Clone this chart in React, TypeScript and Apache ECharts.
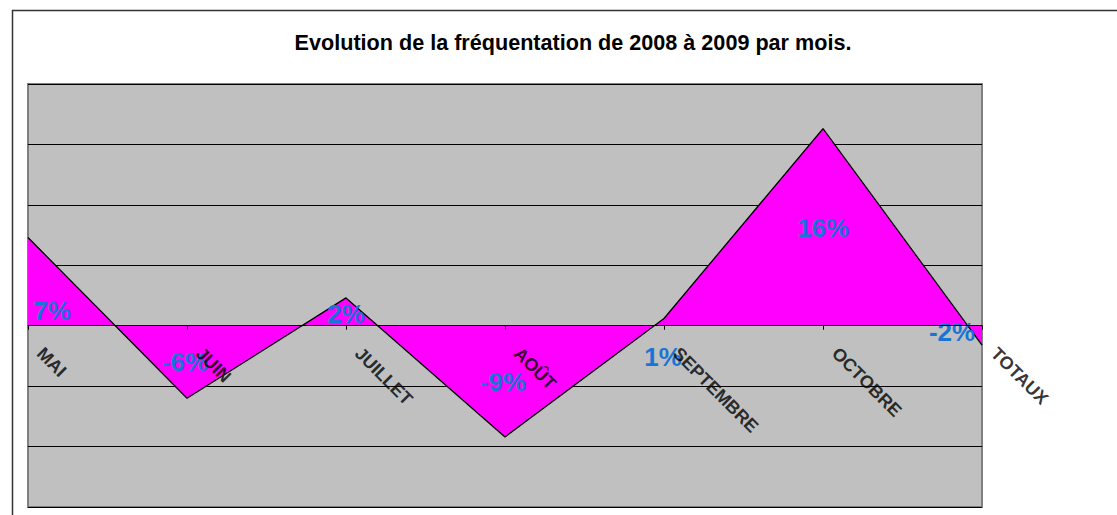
import React, { useEffect, useRef } from "react";
import * as echarts from "echarts";

const titleText = "Evolution de la fréquentation de 2008 à 2009 par mois.";
const categories = ["MAI", "JUIN", "JUILLET", "AOÛT", "SEPTEMBRE", "OCTOBRE", "TOTAUX"];
const values = [7.3, -6.0, 2.3, -9.2, 0.6, 16.3, -1.6];
// label center offsets relative to each point (style only)
const labelOffsets: [number, number][] = [
  [24, 74],
  [-2, -36],
  [0, 16],
  [-2, -55],
  [-1, 39],
  [0, 99],
  [-30, -13],
];

const FONT = "'Liberation Sans', Arial, sans-serif";

export default function App() {
  const ref = useRef<HTMLDivElement>(null);
  useEffect(() => {
    if (!ref.current) return;
    const chart = echarts.init(ref.current, null, { renderer: "svg" });
    const data = values.map((v, i) => ({
      value: v,
      label: { offset: labelOffsets[i] },
    }));
    // category names carried on the zero line (axis crosses at 0)
    const axisNameData = categories.map((c) => ({ value: [c, 0], name: c }));
    chart.setOption({
      animation: false,
      backgroundColor: "#ffffff",
      title: {
        text: titleText,
        left: 568,
        top: 26,
        textAlign: "center",
        textStyle: { fontFamily: FONT, fontSize: 21.6, fontWeight: "bold", color: "#000" },
      },
      graphic: [
        {
          type: "rect",
          shape: { x: 12.5, y: 10.5, width: 1200, height: 600 },
          style: { fill: "none", stroke: "#333", lineWidth: 1.5 },
          silent: true,
          z: 100,
        },
      ],
      grid: {
        left: 28,
        top: 84,
        width: 954,
        height: 423,
        show: true,
        backgroundColor: "#C0C0C0",
        borderColor: "#808080",
        borderWidth: 2,
        containLabel: false,
        outerBoundsMode: "none",
      },
      xAxis: {
        type: "category",
        data: categories,
        boundaryGap: false,
        axisLine: { onZero: true, lineStyle: { color: "#000", width: 1 } },
        axisTick: { show: true, length: 4, lineStyle: { color: "#000" } },
        axisLabel: { show: false },
        splitLine: { show: false },
        z: 5,
      },
      yAxis: {
        type: "value",
        min: -15,
        max: 20,
        interval: 5,
        axisLine: { show: false },
        axisTick: { show: false },
        axisLabel: { show: false },
        splitLine: { show: true, lineStyle: { color: "#000", width: 1 } },
      },
      series: [
        {
          type: "line",
          data,
          symbol: "circle",
          symbolSize: 1,
          showSymbol: true,
          itemStyle: { color: "rgba(0,0,0,0)" },
          lineStyle: { color: "#000", width: 1.3 },
          areaStyle: { color: "#FF00FF", opacity: 1 },
          label: {
            show: true,
            position: "inside",
            formatter: (p: any) => Math.round(p.value) + "%",
            fontFamily: FONT,
            fontSize: 26,
            fontWeight: "bold",
            color: "#1A74D4",
          },
          z: 3,
        },
        {
          type: "scatter",
          data: axisNameData,
          symbolSize: 1,
          itemStyle: { color: "rgba(0,0,0,0)" },
          silent: true,
          label: {
            show: true,
            position: "inside",
            offset: [26, 9],
            rotate: -45,
            align: "left",
            verticalAlign: "middle",
            formatter: (p: any) => p.name,
            fontFamily: FONT,
            fontSize: 18,
            fontWeight: "bold",
            color: "#000",
          },
          z: 6,
        },
      ],
    });
    return () => chart.dispose();
  }, []);
  return (
    <div
      ref={ref}
      style={{ position: "absolute", left: 0, top: 0, width: 1117, height: 515 }}
    />
  );
}
